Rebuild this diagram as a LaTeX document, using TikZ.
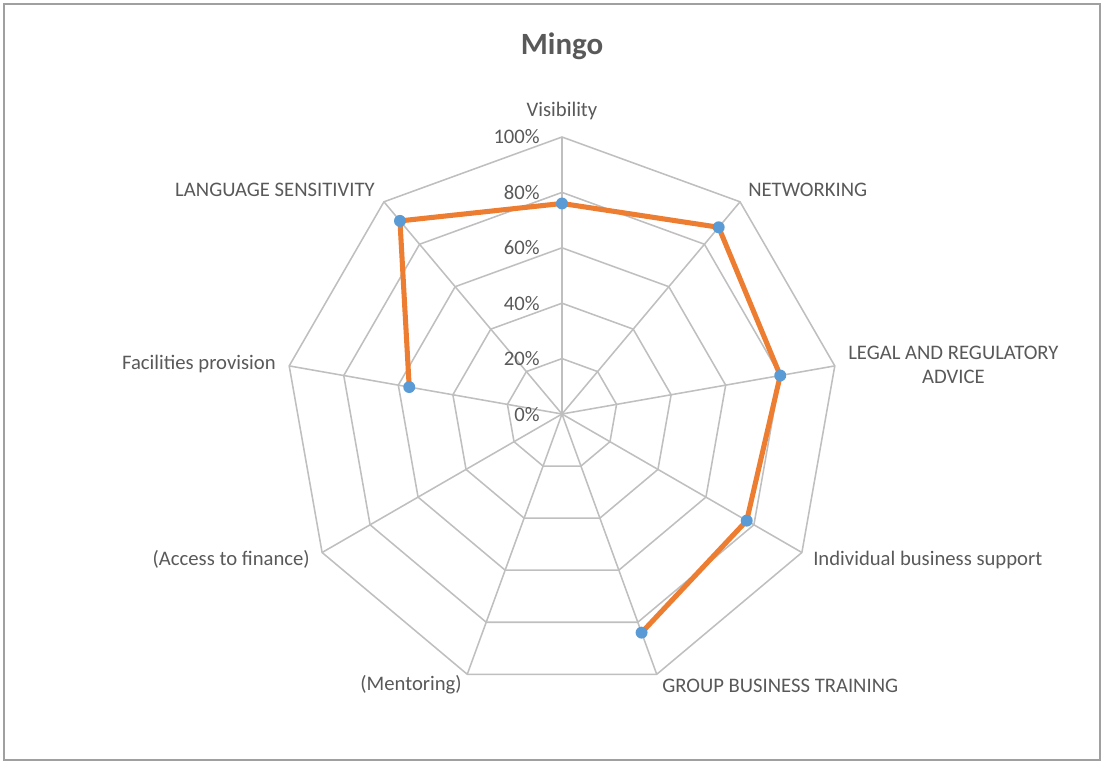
\documentclass[tikz,border=0pt]{standalone}
\usepackage{fontspec}
\setmainfont{Carlito}
\usetikzlibrary{calc}
\definecolor{gridgray}{HTML}{BFBFBF}
\definecolor{textgray}{HTML}{595959}
\definecolor{frameGray}{HTML}{A0A0A0}
\definecolor{lineorange}{HTML}{ED7D31}
\definecolor{markblue}{HTML}{5B9BD5}
\tikzset{
  grid line/.style={draw=gridgray,line width=1.1pt},
  axis label/.style={text=textgray,font=\fontsize{14.7}{17.5}\selectfont,inner sep=0pt},
  pct label/.style={axis label,anchor=base east},
  data line/.style={draw=lineorange,line width=3.6pt,line join=round},
  data mark/.style={circle,fill=markblue,inner sep=0pt,minimum size=8.5pt}
}

\begin{document}
\begin{tikzpicture}[x=0.025cm,y=0.025cm]
\useasboundingbox (-562,-350) rectangle (542,414);
\draw[draw=frameGray,line width=1.5pt] (-558,-346) rectangle (538,410);

\node[text=textgray,font=\bfseries\fontsize{22}{26}\selectfont] (title) at (0,368) {Mingo};

% rings and spokes
\coordinate (c) at (0,0);
\foreach \i in {0,...,8}
  \coordinate (v\i) at ({90-40*\i}:277);
\foreach \r in {1,...,5}
  \draw[grid line] (90:\r*55.4) \foreach \a in {50,10,...,-230} { -- (\a:\r*55.4) } -- cycle;
\foreach \i in {0,...,8}
  \draw[grid line] (c) -- (v\i);

% percent scale
\foreach \k in {0,...,5} {
  \pgfmathtruncatemacro\pct{20*\k}
  \node[pct label] (pct\k) at (-22,{\k*55.4-7}) {\pct\%};
}

% axis labels
\node[axis label,anchor=base] (visib) at (0,297) {Visibility};
\node[axis label,anchor=base west] (netw) at (186,217) {NETWORKING};
\node[axis label,anchor=west,align=center] (legal) at (286,49) {LEGAL AND REGULATORY\\ADVICE};
\node[axis label,anchor=base west] (indiv) at (251,-151) {Individual business support};
\node[axis label,anchor=base west] (group) at (100,-278) {GROUP BUSINESS TRAINING};
\node[axis label,anchor=base east] (mentor) at (-100,-276) {(Mentoring)};
\node[axis label,anchor=base east] (finance) at (-252,-151) {(Access to finance)};
\node[axis label,anchor=base east] (facil) at (-286,45) {Facilities provision};
\node[axis label,anchor=base east] (lang) at (-187,217) {LANGUAGE SENSITIVITY};

% scores
\def\scores{0/0.76,1/0.88,2/0.80,3/0.77,4/0.84,7/0.56,8/0.91}
\foreach \i/\v in \scores
  \coordinate (p\i) at ({90-40*\i}:\v*277);
\draw[data line] (p7) -- (p8) -- (p0) -- (p1) -- (p2) -- (p3) -- (p4);
\foreach \i/\v in \scores
  \node[data mark] (m\i) at (p\i) {};
\end{tikzpicture}
\end{document}
